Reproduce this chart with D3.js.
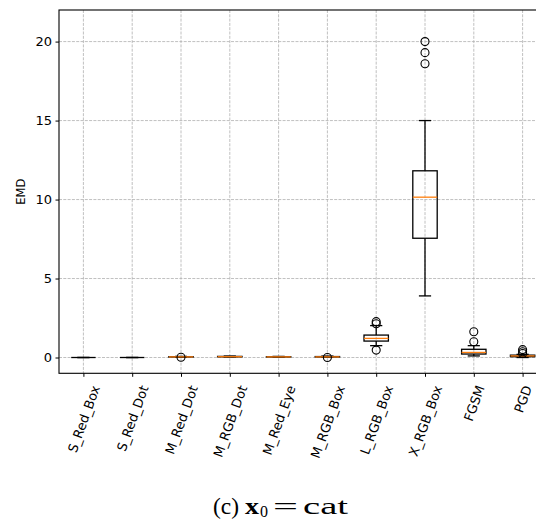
<!DOCTYPE html>
<html>
<head>
<meta charset="utf-8">
<script src="https://cdn.jsdelivr.net/npm/d3@7"></script>
<style>
  body { margin: 0; background: #fff; }
  svg { display: block; }
  .tick text { font-family: "DejaVu Sans", sans-serif; font-size: 13px; fill: #000; }
</style>
</head>
<body>
<svg width="536" height="521"></svg>
<script>
var categories = ['S_Red_Box', 'S_Red_Dot', 'M_Red_Dot', 'M_RGB_Dot', 'M_Red_Eye',
                  'M_RGB_Box', 'L_RGB_Box', 'X_RGB_Box', 'FGSM', 'PGD'];
var whiskLo = [0, 0, 0.01, 0.03, 0.02, 0.02, 0.75, 3.9, 0.1, 0.0];
var q1      = [0, 0, 0.03, 0.04, 0.03, 0.03, 1.04, 7.55, 0.22, 0.05];
var median  = [0, 0, 0.04, 0.05, 0.04, 0.04, 1.21, 10.15, 0.32, 0.1];
var q3      = [0, 0, 0.05, 0.07, 0.05, 0.06, 1.42, 11.82, 0.52, 0.15];
var whiskHi = [0, 0, 0.07, 0.09, 0.07, 0.09, 2.02, 15.0, 0.75, 0.2];
var outliers = [[], [], [0.02], [], [], [0.0], [2.27, 2.14, 0.47], [20.0, 19.3, 18.6], [1.63, 1.0], [0.5, 0.36, 0.25]];
var yTicks = [0, 5, 10, 15, 20];

var svg = d3.select('svg'),
    pLeft = 59, pRight = 547, pTop = 10, pBottom = 373.3;

var x = d3.scaleLinear().domain([0.5, 10.5]).range([pLeft, pRight]);
var y = d3.scaleLinear().domain([-1, 22]).range([pBottom, pTop]);
var bw = x(1.25) - x(1);   // half box width
var cw = bw / 2;           // half cap width

// grid
var grid = svg.append('g').attr('stroke', '#b0b0b0').attr('stroke-width', 0.8).attr('stroke-dasharray', '3,1.3');
grid.selectAll('line.gx').data(categories).enter().append('line')
  .attr('x1', function(d, i) { return x(i + 1); }).attr('x2', function(d, i) { return x(i + 1); })
  .attr('y1', pTop).attr('y2', pBottom);
grid.selectAll('line.gy').data(yTicks).enter().append('line')
  .attr('x1', pLeft).attr('x2', pRight)
  .attr('y1', function(d) { return y(d); }).attr('y2', function(d) { return y(d); });

// boxes
var boxes = svg.append('g').selectAll('g.box').data(categories).enter().append('g')
  .attr('class', 'box')
  .attr('transform', function(d, i) { return 'translate(' + x(i + 1) + ',0)'; });

boxes.append('line').attr('stroke', '#000').attr('stroke-width', 1.3)
  .attr('y1', function(d, i) { return y(whiskLo[i]); }).attr('y2', function(d, i) { return y(q1[i]); });
boxes.append('line').attr('stroke', '#000').attr('stroke-width', 1.3)
  .attr('y1', function(d, i) { return y(q3[i]); }).attr('y2', function(d, i) { return y(whiskHi[i]); });
boxes.append('line').attr('stroke', '#000').attr('stroke-width', 1.3)
  .attr('x1', -cw).attr('x2', cw)
  .attr('y1', function(d, i) { return y(whiskLo[i]); }).attr('y2', function(d, i) { return y(whiskLo[i]); });
boxes.append('line').attr('stroke', '#000').attr('stroke-width', 1.3)
  .attr('x1', -cw).attr('x2', cw)
  .attr('y1', function(d, i) { return y(whiskHi[i]); }).attr('y2', function(d, i) { return y(whiskHi[i]); });
boxes.append('rect').attr('fill', 'none').attr('stroke', '#000').attr('stroke-width', 1.3)
  .attr('x', -bw).attr('width', 2 * bw)
  .attr('y', function(d, i) { return y(q3[i]); })
  .attr('height', function(d, i) { return y(q1[i]) - y(q3[i]); });
boxes.append('line').attr('stroke-width', 1.3)
  .attr('stroke', function(d, i) { return q3[i] - q1[i] === 0 ? '#000' : '#ff7f0e'; })
  .attr('x1', -bw).attr('x2', bw)
  .attr('y1', function(d, i) { return y(median[i]); }).attr('y2', function(d, i) { return y(median[i]); });
boxes.selectAll('circle').data(function(d, i) { return outliers[i]; }).enter().append('circle')
  .attr('cx', 0).attr('cy', function(d) { return y(d); }).attr('r', 4)
  .attr('fill', 'none').attr('stroke', '#000').attr('stroke-width', 1.1);

// axes
var yAxis = svg.append('g').attr('transform', 'translate(' + pLeft + ',0)')
  .call(d3.axisLeft(y).tickValues(yTicks).tickSize(3.5).tickPadding(3.5));
var xAxis = svg.append('g').attr('transform', 'translate(0,' + pBottom + ')')
  .call(d3.axisBottom(x).tickValues(d3.range(1, 11)).tickSize(3.5).tickPadding(3)
    .tickFormat(function(d) { return categories[d - 1]; }));

// rotated labels, bounding box centred under the tick, top just below it
var rot = 70, ang = rot * Math.PI / 180, fh = 13 * 0.75;
xAxis.selectAll('.tick text')
  .attr('text-anchor', 'middle').attr('dy', '0.35em').attr('y', 0)
  .attr('transform', function() {
    var L = this.getComputedTextLength();
    var half = (L / 2) * Math.sin(ang) + (fh / 2) * Math.cos(ang);
    return 'translate(0,' + (11 + half) + ') rotate(' + (-rot) + ')';
  });
[yAxis, xAxis].forEach(function(a) {
  a.select('.domain').remove();
  a.selectAll('.tick line').attr('stroke', '#000').attr('stroke-width', 1);
});

// spines
svg.append('rect').attr('x', pLeft).attr('y', pTop).attr('width', pRight - pLeft).attr('height', pBottom - pTop)
  .attr('fill', 'none').attr('stroke', '#000').attr('stroke-width', 1.1);

svg.append('text').attr('transform', 'translate(25,' + (pTop + pBottom) / 2 + ') rotate(-90)')
  .attr('text-anchor', 'middle').style('font-family', 'DejaVu Sans').style('font-size', '11.5px').text('EMD');

// caption
var cap = svg.append('text').attr('y', 514)
  .style('font-family', '"Liberation Serif", serif').style('font-size', '23px');
cap.append('tspan').attr('x', 213).attr('textLength', 26).attr('lengthAdjust', 'spacingAndGlyphs').text('(c)');
cap.append('tspan').attr('x', 245).attr('font-weight', 'bold')
  .attr('textLength', 14).attr('lengthAdjust', 'spacingAndGlyphs').text('x');
cap.append('tspan').attr('x', 260).attr('font-size', '16px').attr('dy', 3)
  .attr('textLength', 8).attr('lengthAdjust', 'spacingAndGlyphs').text('0');
cap.append('tspan').attr('x', 273).attr('dy', -3)
  .attr('textLength', 25).attr('lengthAdjust', 'spacingAndGlyphs').text('=');
cap.append('tspan').attr('x', 303)
  .attr('textLength', 45).attr('lengthAdjust', 'spacingAndGlyphs').text('cat');
</script>
</body>
</html>
